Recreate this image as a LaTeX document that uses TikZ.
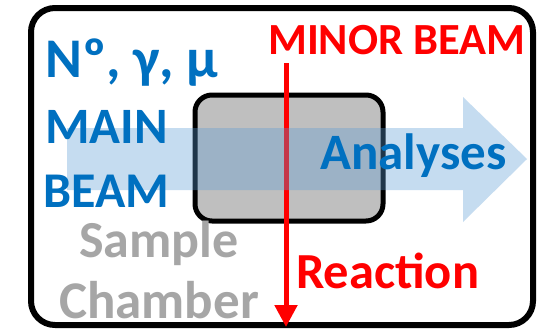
\documentclass[tikz,border=0pt]{standalone}
\usepackage{fontspec}
\setmainfont{Carlito}
\usetikzlibrary{arrows.meta}
\definecolor{tblue}{RGB}{0,112,192}
\definecolor{tred}{RGB}{255,0,0}
\definecolor{tgray}{RGB}{166,166,166}
\definecolor{boxgray}{RGB}{191,191,191}
\definecolor{beamblue}{RGB}{91,155,213}
\tikzset{
  lbl/.style={inner sep=0pt, font=\bfseries},
  bluetxt/.style={lbl, text=tblue},
  redtxt/.style={lbl, text=tred},
  graytxt/.style={lbl, text=tgray},
}
\begin{document}
\begin{tikzpicture}[x=1pt,y=-1pt]
\useasboundingbox (0,0) rectangle (540,333);
% outer chamber
\draw[line width=6pt, rounded corners=24pt, fill=white] (31,8) rectangle (533,325);
% sample box
\draw[line width=5pt, rounded corners=17pt, fill=boxgray] (195,95) rectangle (383,221);
% minor beam
\coordinate (rtop) at (286,63);
\coordinate (rbot) at (286,327);
\draw[tred, line width=5pt, -{Triangle[width=22pt,length=22pt]}] (rtop) -- (rbot);
% main beam arrow
\fill[beamblue, opacity=0.35] (67,128) -- (463,128) -- (463,97) -- (527,159) -- (463,222) -- (463,190) -- (67,190) -- cycle;
% texts
\node[bluetxt, anchor=base west, font=\bfseries\fontsize{56}{56}\selectfont] (par) at (45,77) {Nº, γ, μ};
\node[bluetxt, anchor=base west, font=\bfseries\fontsize{51}{51}\selectfont] (main) at (45,143) {MAIN};
\node[bluetxt, anchor=base west, font=\bfseries\fontsize{50}{50}\selectfont] (beam) at (43,207) {BEAM};
\node[graytxt, anchor=base, font=\bfseries\fontsize{52}{52}\selectfont] (sample) at (159,257) {Sample};
\node[graytxt, anchor=base, font=\bfseries\fontsize{53}{53}\selectfont] (chamber) at (159,318) {Chamber};
\node[redtxt, anchor=base west, font=\bfseries\fontsize{44.5}{44.5}\selectfont] (minor) at (268,54) {MINOR BEAM};
\node[bluetxt, anchor=base west, font=\bfseries\fontsize{51}{51}\selectfont] (anal) at (320,169) {Analyses};
\node[redtxt, anchor=base west, font=\bfseries\fontsize{50.5}{50.5}\selectfont] (react) at (296,288) {Reaction};
\end{tikzpicture}
\end{document}
